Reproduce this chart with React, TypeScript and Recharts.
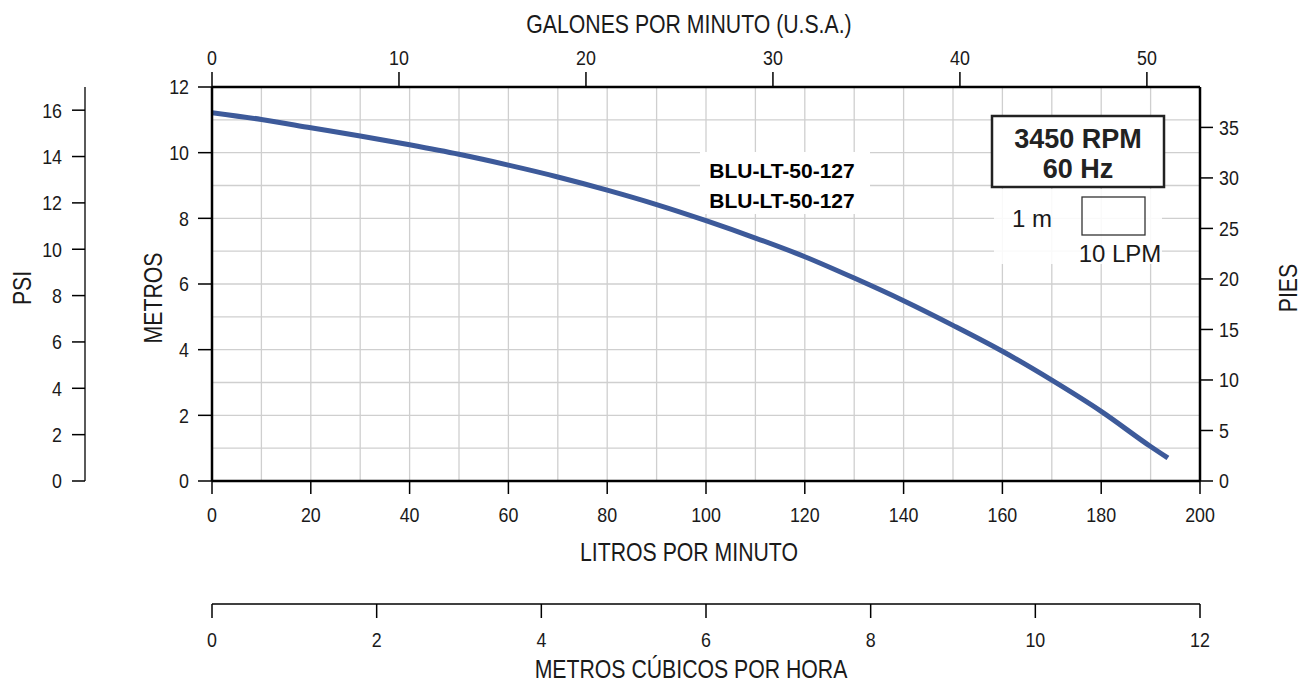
import { CartesianGrid, Line, LineChart, XAxis, YAxis } from "recharts";

// Curva de la bomba BLU-LT-50-127 (caudal en LPM, altura en metros)
const LPM = [0, 10, 20, 30, 40, 50, 60, 70, 80, 90, 100, 110, 120, 130, 140, 150, 160, 170, 180, 190, 193.5];
const METROS = [11.22, 11.01, 10.76, 10.51, 10.24, 9.95, 9.62, 9.26, 8.86, 8.42, 7.93, 7.4, 6.83, 6.18, 5.49, 4.74, 3.95, 3.07, 2.12, 1.05, 0.7];

// ticks de cada escala
const LPM_TICKS = [0, 20, 40, 60, 80, 100, 120, 140, 160, 180, 200];
const GPM_TICKS = [0, 10, 20, 30, 40, 50];
const M3H_TICKS = [0, 2, 4, 6, 8, 10, 12];
const M_TICKS = [0, 2, 4, 6, 8, 10, 12];
const PSI_TICKS = [0, 2, 4, 6, 8, 10, 12, 14, 16];
const FT_TICKS = [0, 5, 10, 15, 20, 25, 30, 35];
const GRID_LPM = [0, 10, 20, 30, 40, 50, 60, 70, 80, 90, 100, 110, 120, 130, 140, 150, 160, 170, 180, 190, 200];
const GRID_M = [0, 1, 2, 3, 4, 5, 6, 7, 8, 9, 10, 11, 12];

const GPM_MAX = 52.84;
const M3H_MAX = 12;
const PSI_MAX = 17.0;
const FT_MAX = 39.0;

const W = 1309;
const H = 683;

const FONT = "'Liberation Sans', Arial, sans-serif";
const SQUEEZE = 0.85; // el original usa una letra algo estrecha
const TEXT = "#1a1a1a";
const CURVE = "#3d5a9a";

const data = LPM.map((lpm, i) => ({ lpm, m: METROS[i] }));

const frameLine = { stroke: "#000", strokeWidth: 2.5 };
const thinLine = { stroke: "#000", strokeWidth: 1.3 };
const tickLine = { stroke: "#000", strokeWidth: 1.5 };

const NarrowTick = (props: any) => {
	const { x, y, payload, textAnchor, verticalAnchor } = props;
	const dy = verticalAnchor === "start" ? "0.71em" : verticalAnchor === "middle" ? "0.355em" : "0";
	return (
		<g transform={`translate(${x},${y}) scale(${SQUEEZE},1)`}>
			<text x={0} y={0} dy={dy} textAnchor={textAnchor} fill={TEXT} fontSize={21} fontFamily={FONT}>
				{payload.value}
			</text>
		</g>
	);
};

// titulo de eje, relativo al centro de la caja del eje
function axisTitle(text: string, dx: number, dy: number, angle = 0) {
	return (props: any) => {
		const vb = props.viewBox || { x: 0, y: 0, width: 0, height: 0 };
		const x = vb.x + vb.width / 2 + dx;
		const y = vb.y + vb.height / 2 + dy;
		return (
			<g transform={`translate(${x},${y}) rotate(${angle}) scale(${SQUEEZE},1)`}>
				<text x={0} y={0} textAnchor="middle" dominantBaseline="central" fill={TEXT} fontSize={25} fontFamily={FONT}>
					{text}
				</text>
			</g>
		);
	};
}

export default function App() {
	return (
		<div style={{ position: "absolute", left: 0, top: 0, width: W, height: H, background: "#fff" }}>
			<LineChart width={W} height={H} data={data} margin={{ top: 0, right: 0, bottom: 0, left: 0 }}>
				<CartesianGrid
					xAxisId="lpm"
					yAxisId="m"
					verticalValues={GRID_LPM}
					horizontalValues={GRID_M}
					stroke="#cfcfcf"
					strokeWidth={1.3}
				/>
				<XAxis
					xAxisId="lpm"
					dataKey="lpm"
					type="number"
					orientation="bottom"
					domain={[0, 200]}
					allowDataOverflow
					ticks={LPM_TICKS}
					interval={0}
					height={123}
					tickSize={13}
					tickMargin={13}
					axisLine={frameLine}
					tickLine={tickLine}
					tick={<NarrowTick />}
					label={axisTitle("LITROS POR MINUTO", -17, 9.5)}
				/>
				<XAxis
					xAxisId="m3h"
					dataKey="lpm"
					type="number"
					orientation="bottom"
					domain={[0, M3H_MAX]}
					allowDataOverflow
					ticks={M3H_TICKS}
					interval={0}
					height={79}
					tickSize={14}
					tickMargin={14}
					axisLine={thinLine}
					tickLine={tickLine}
					tick={<NarrowTick />}
					label={axisTitle("METROS CÚBICOS POR HORA", -15, 26)}
				/>
				<XAxis
					xAxisId="gpm"
					dataKey="lpm"
					type="number"
					orientation="top"
					domain={[0, GPM_MAX]}
					allowDataOverflow
					ticks={GPM_TICKS}
					interval={0}
					height={87}
					tickSize={15}
					tickMargin={7}
					axisLine={frameLine}
					tickLine={tickLine}
					tick={<NarrowTick />}
					label={axisTitle("GALONES POR MINUTO (U.S.A.)", -17, -19.5)}
				/>
				<YAxis
					yAxisId="m"
					type="number"
					orientation="left"
					domain={[0, 12]}
					allowDataOverflow
					ticks={M_TICKS}
					interval={0}
					width={127}
					tickSize={14}
					tickMargin={9}
					axisLine={frameLine}
					tickLine={tickLine}
					tick={<NarrowTick />}
					label={axisTitle("METROS", 4.5, 14, -90)}
				/>
				<YAxis
					yAxisId="psi"
					type="number"
					orientation="left"
					domain={[0, PSI_MAX]}
					allowDataOverflow
					ticks={PSI_TICKS}
					interval={0}
					width={85}
					tickSize={13}
					tickMargin={10}
					axisLine={thinLine}
					tickLine={tickLine}
					tick={<NarrowTick />}
					label={axisTitle("PSI", -20.5, 4, -90)}
				/>
				<YAxis
					yAxisId="ft"
					type="number"
					orientation="right"
					domain={[0, FT_MAX]}
					allowDataOverflow
					ticks={FT_TICKS}
					interval={0}
					width={109}
					tickSize={13}
					tickMargin={6}
					axisLine={frameLine}
					tickLine={tickLine}
					tick={<NarrowTick />}
					label={axisTitle("PIES", 33.5, 4, -90)}
				/>
				<Line
					xAxisId="lpm"
					yAxisId="m"
					type="monotone"
					dataKey="m"
					stroke={CURVE}
					strokeWidth={5}
					dot={false}
					activeDot={false}
					isAnimationActive={false}
				/>
			</LineChart>

			{/* anotaciones: modelo, rpm y escala */}
			<svg
				width={W}
				height={H}
				style={{ position: "absolute", left: 0, top: 0, pointerEvents: "none" }}
			>
				<rect x={700} y={152} width={170} height={62} fill="#fff" />
				<text x={782} y={178} textAnchor="middle" fontFamily={FONT} fontWeight="bold" fontSize={21} fill="#000">
					BLU-LT-50-127
				</text>
				<text x={782} y={208} textAnchor="middle" fontFamily={FONT} fontWeight="bold" fontSize={21} fill="#000">
					BLU-LT-50-127
				</text>

				<rect x={992} y={116} width={172} height={71} fill="#fff" stroke="#222" strokeWidth={2.5} />
				<text x={1078} y={148} textAnchor="middle" fontFamily={FONT} fontWeight="bold" fontSize={27} fill="#222">
					3450 RPM
				</text>
				<text x={1078} y={178} textAnchor="middle" fontFamily={FONT} fontWeight="bold" fontSize={27} fill="#222">
					60 Hz
				</text>

				<rect x={994} y={189} width={168} height={75} fill="#fff" opacity={0.88} />
				<rect x={1082} y={197} width={63} height={38} fill="none" stroke="#333" strokeWidth={1.3} />
				<text x={1032} y={227} textAnchor="middle" fontFamily={FONT} fontSize={24} fill={TEXT}>
					1 m
				</text>
				<text x={1120} y={262} textAnchor="middle" fontFamily={FONT} fontSize={24} fill={TEXT}>
					10 LPM
				</text>
			</svg>
		</div>
	);
}
